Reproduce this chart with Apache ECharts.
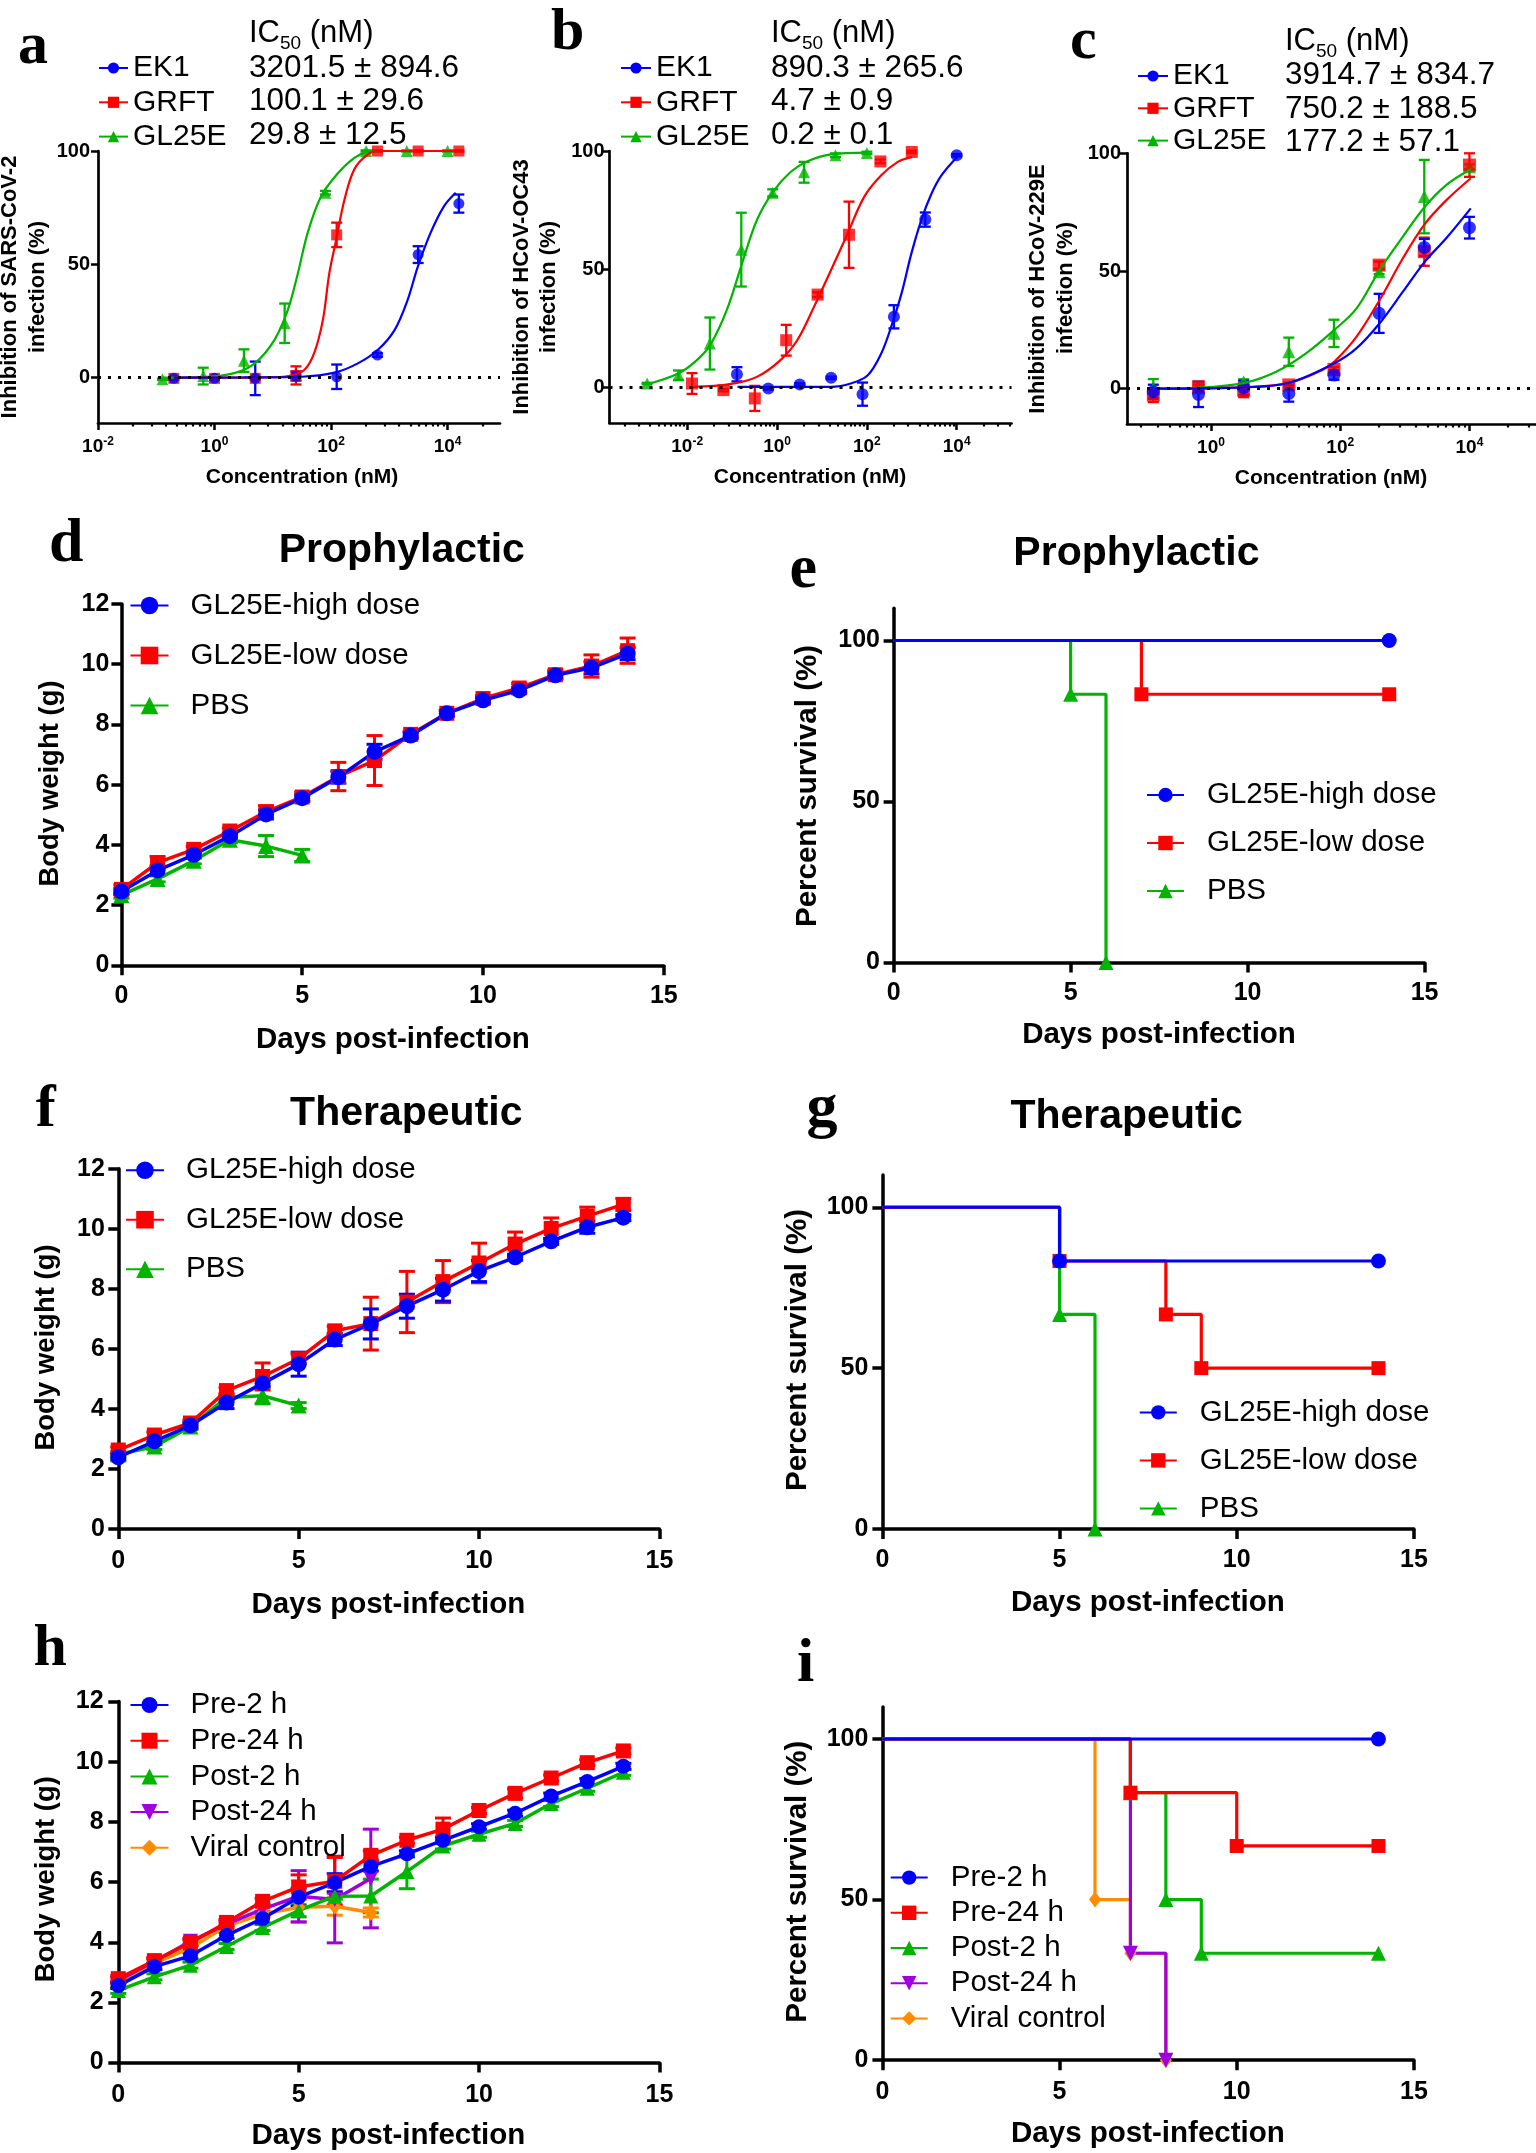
<!DOCTYPE html>
<html><head><meta charset="utf-8">
<script src="https://cdn.jsdelivr.net/npm/echarts@6/dist/echarts.min.js"></script>
<style>html,body{margin:0;padding:0;background:#fff}#c{width:1536px;height:2153px}</style>
</head><body><div id="c"></div>
<script>
// ---------------- DATA ----------------
// Panel a (SARS-CoV-2), concentrations in nM, inhibition in %
const A_CONC_EK1 = [0.2, 1, 5, 25, 125, 625, 3125, 15625];
const A_EK1 = [-0.3, -0.3, -0.3, 0.7, 0.4, 10, 54.3, 76.8];
const A_EK1_ERR = [0.5, 0.5, 7.4, 2, 5.4, 0.8, 3.7, 4];
const A_CONC_GRFT = [0.2, 1, 5, 25, 125, 625, 3125, 15625];
const A_GRFT = [-0.3, -0.3, -0.3, 1.0, 63, 100, 100, 100];
const A_GRFT_ERR = [0.5, 0.5, 0.5, 4, 5.4, 0.3, 0.3, 0.3];
const A_CONC_GL = [0.128, 0.64, 3.2, 16, 80, 400, 2000, 10000];
const A_GL = [-0.7, 0.7, 7.5, 24, 81.6, 100, 100, 100];
const A_GL_ERR = [0.3, 3.7, 5, 8.7, 0.8, 0.3, 0.3, 0.3];
// fitted curves (x = log10 nM)
const A_FIT_EK1_LOGX = [-0.7, 0.5, 1.49, 2.06, 2.46, 2.8, 3.09, 3.31, 3.49, 3.71, 3.94, 4.14];
const A_FIT_EK1_Y = [0, 0.1, 0.4, 2.2, 6.3, 12.2, 21, 34, 49, 64, 75.7, 81.6];
const A_FIT_GRFT_LOGX = [-0.7, 0.3, 1.0, 1.26, 1.54, 1.71, 1.86, 1.97, 2.09, 2.23, 2.4, 2.63, 2.8, 3.5, 4.19];
const A_FIT_GRFT_Y = [0, 0, 0.2, 0.7, 3.4, 10.8, 25.5, 46, 61, 78.5, 92, 98.5, 100, 100, 100];
const A_FIT_GL_LOGX = [-0.89, -0.23, 0.34, 0.69, 1.03, 1.26, 1.43, 1.6, 1.83, 2.11, 2.4, 2.63, 2.86, 3.5, 4.0];
const A_FIT_GL_Y = [0, 0.2, 2, 6.3, 16.7, 30, 46, 64, 80, 90, 97, 99.6, 100, 100, 100];

// Panel b (HCoV-OC43)
const B_CONC_EK1 = [0.128, 0.64, 3.2, 16, 80, 400, 2000, 10000];
const B_EK1 = [5.6, -0.4, 1.3, 4.1, -2.8, 29.9, 71, 98.2];
const B_EK1_ERR = [3, 0.5, 0.5, 0.5, 4.9, 4.9, 3, 0.5];
const B_CONC_GRFT = [0.0128, 0.064, 0.32, 1.6, 8, 40, 200, 1000];
const B_GRFT = [1.7, -1.1, -4.6, 20, 39.3, 64.6, 95.6, 99.6];
const B_GRFT_ERR = [4.4, 0.5, 5.3, 6.5, 1, 14, 0.8, 0.5];
const B_CONC_GL = [0.00128, 0.0064, 0.032, 0.16, 0.8, 4, 20, 100];
const B_GL = [1.7, 5.2, 18.6, 58.3, 82.3, 91, 98.2, 99.2];
const B_GL_ERR = [0.3, 2, 11, 15.6, 1.5, 4.4, 0.8, 0.5];
const B_FIT_EK1_LOGX = [-0.88, 0.2, 1.2, 1.64, 2.02, 2.32, 2.54, 2.77, 2.99, 3.21, 3.44, 3.66, 4.02];
const B_FIT_EK1_Y = [0.3, 0.3, 0.3, 1.7, 5.2, 14.4, 25.6, 39.7, 56.6, 70.7, 82, 89.7, 97.7];
const B_FIT_GRFT_LOGX = [-1.87, -1.05, -0.45, 0.07, 0.45, 0.82, 1.2, 1.57, 1.94, 2.32, 2.69, 3.01];
const B_FIT_GRFT_Y = [0.3, 1.4, 4.5, 11.5, 20, 34, 49.6, 65, 80.6, 89.7, 95.4, 97.5];
const B_FIT_GL_LOGX = [-2.88, -2.2, -1.79, -1.49, -1.12, -0.78, -0.45, -0.09, 0.3, 0.67, 1.2, 2.0];
const B_FIT_GL_Y = [1.4, 5.9, 11.5, 17.9, 32.7, 52.4, 70.7, 82.7, 91.1, 95.6, 98.6, 99.3];

// Panel c (HCoV-229E)
const C_CONC = [0.128, 0.64, 3.2, 16, 80, 400, 2000, 10000];
const C_EK1 = [-1.3, -2.4, 0.4, -2, 5.8, 32, 60, 68.4];
const C_EK1_ERR = [3, 5.4, 3, 3.5, 2, 8.3, 3.6, 4.6];
const C_GRFT = [-2.7, 0.8, -0.6, 1.6, 8.2, 52.5, 58.2, 95];
const C_GRFT_ERR = [3, 1, 3, 1, 1, 1.5, 6, 5];
const C_GL = [0.1, 0.4, 3, 15.7, 23.5, 49.7, 81.6, 94.3];
const C_GL_ERR = [4, 1, 1, 6, 5.8, 1, 15.6, 1];
const C_FIT_EK1_LOGX = [-0.89, 0.52, 1.21, 1.91, 2.25, 2.61, 2.97, 3.31, 3.64, 4.02];
const C_FIT_EK1_Y = [0, 0.6, 2.5, 10.8, 17.1, 27.8, 41.2, 54, 63.9, 76.6];
const C_FIT_GRFT_LOGX = [-0.89, 0.52, 1.21, 1.73, 1.91, 2.25, 2.61, 2.97, 3.31, 3.64, 4.02];
const C_FIT_GRFT_Y = [0, 0.6, 2.5, 8, 11.5, 22, 37.7, 55.4, 70, 80, 89.4];
const C_FIT_GL_LOGX = [-0.89, -0.18, 0.52, 1.01, 1.47, 1.91, 2.25, 2.61, 2.97, 3.31, 3.64, 4.02];
const C_FIT_GL_Y = [0, 0.4, 2.5, 7.2, 15, 25, 34, 50.4, 64.6, 77.3, 86.5, 93.2];

const DRUGS = ['EK1', 'GRFT', 'GL25E'];
const IC50_A = ['3201.5 ± 894.6', '100.1 ± 29.6', '29.8 ± 12.5'];
const IC50_B = ['890.3 ± 265.6', '4.7 ± 0.9', '0.2 ± 0.1'];
const IC50_C = ['3914.7 ± 834.7', '750.2 ± 188.5', '177.2 ± 57.1'];
const LOG_MAJOR_TICKS = [-2, 0, 2, 4];
const LOG_MINOR_OFFSETS = [0.6, 0.92, 1.17, 1.36, 1.51, 1.63, 1.74, 1.84, 1.93];
const PCT_TICKS = [0, 50, 100];

// Body weight (g), days 0..14
const DAYS = [0, 1, 2, 3, 4, 5, 6, 7, 8, 9, 10, 11, 12, 13, 14];
const D_HIGH = [2.45, 3.15, 3.67, 4.29, 5.01, 5.55, 6.25, 7.09, 7.63, 8.37, 8.80, 9.13, 9.63, 9.88, 10.35];
const D_HIGH_ERR = [0.1, 0.15, 0.1, 0.1, 0.15, 0.1, 0.2, 0.25, 0.1, 0.1, 0.1, 0.1, 0.1, 0.2, 0.2];
const D_LOW = [2.52, 3.41, 3.85, 4.46, 5.10, 5.59, 6.27, 6.80, 7.67, 8.37, 8.86, 9.21, 9.65, 9.94, 10.45];
const D_LOW_ERR = [0.15, 0.2, 0.1, 0.1, 0.2, 0.15, 0.47, 0.83, 0.1, 0.1, 0.1, 0.15, 0.15, 0.37, 0.42];
const D_PBS = [2.33, 2.87, 3.47, 4.17, 3.96, 3.65];
const D_PBS_ERR = [0.1, 0.1, 0.1, 0.1, 0.35, 0.2];

const F_HIGH = [2.39, 2.92, 3.45, 4.21, 4.85, 5.49, 6.31, 6.83, 7.42, 7.97, 8.59, 9.05, 9.58, 10.05, 10.37];
const F_HIGH_ERR = [0.1, 0.1, 0.1, 0.2, 0.1, 0.4, 0.2, 0.5, 0.4, 0.38, 0.35, 0.1, 0.1, 0.2, 0.1];
const F_LOW = [2.63, 3.13, 3.53, 4.61, 5.08, 5.67, 6.60, 6.84, 7.56, 8.24, 8.86, 9.49, 10.01, 10.42, 10.81];
const F_LOW_ERR = [0.1, 0.1, 0.1, 0.1, 0.45, 0.15, 0.15, 0.88, 1.02, 0.7, 0.66, 0.4, 0.35, 0.3, 0.2];
const F_PBS = [2.48, 2.75, 3.41, 4.38, 4.44, 4.11];
const F_PBS_ERR = [0.1, 0.1, 0.1, 0.1, 0.27, 0.1];

const H_PRE2 = [2.56, 3.19, 3.55, 4.23, 4.79, 5.50, 5.98, 6.52, 6.94, 7.39, 7.84, 8.29, 8.86, 9.34, 9.85];
const H_PRE2_ERR = [0.1, 0.1, 0.1, 0.1, 0.15, 0.3, 0.3, 0.15, 0.1, 0.1, 0.1, 0.1, 0.1, 0.1, 0.1];
const H_PRE24 = [2.79, 3.39, 3.98, 4.66, 5.36, 5.84, 6.03, 6.89, 7.39, 7.76, 8.38, 8.95, 9.46, 9.97, 10.36];
const H_PRE24_ERR = [0.1, 0.1, 0.1, 0.1, 0.1, 0.4, 0.79, 0.15, 0.1, 0.37, 0.1, 0.15, 0.1, 0.1, 0.1];
const H_POST2 = [2.40, 2.85, 3.24, 3.86, 4.49, 5.05, 5.53, 5.54, 6.35, 7.20, 7.59, 7.95, 8.61, 9.12, 9.65];
const H_POST2_ERR = [0.1, 0.1, 0.1, 0.1, 0.1, 0.2, 0.1, 0.56, 0.57, 0.1, 0.1, 0.1, 0.1, 0.1, 0.1];
const H_POST24 = [2.73, 3.36, 4.03, 4.60, 5.10, 5.53, 5.42, 6.12];
const H_POST24_ERR = [0.1, 0.1, 0.1, 0.1, 0.1, 0.85, 1.44, 1.64];
const H_VIRAL = [2.62, 3.30, 3.81, 4.54, 4.94, 5.16, 5.20, 4.99];
const H_VIRAL_ERR = [0.1, 0.1, 0.1, 0.1, 0.1, 0.5, 0.3, 0.15];

// Survival (%), event days
const E_HIGH_DAY = [0, 14], E_HIGH = [100, 100];
const E_LOW_DAY = [0, 7, 14], E_LOW = [100, 83.3, 83.3];
const E_PBS_DAY = [0, 5, 6], E_PBS = [100, 83.3, 0];
const G_HIGH_DAY = [0, 5, 14], G_HIGH = [100, 83.3, 83.3];
const G_LOW_DAY = [0, 5, 8, 9, 14], G_LOW = [100, 83.3, 66.7, 50, 50];
const G_PBS_DAY = [0, 5, 6], G_PBS = [100, 66.7, 0];
const I_PRE2_DAY = [0, 14], I_PRE2 = [100, 100];
const I_PRE24_DAY = [0, 7, 10, 14], I_PRE24 = [100, 83.3, 66.7, 66.7];
const I_POST2_DAY = [0, 7, 8, 9, 14], I_POST2 = [100, 83.3, 50, 33.3, 33.3];
const I_POST24_DAY = [0, 7, 8], I_POST24 = [100, 33.3, 0];
const I_VIRAL_DAY = [0, 6, 7, 8], I_VIRAL = [100, 50, 33.3, 0];

const DOSE_NAMES = ['GL25E-high dose', 'GL25E-low dose', 'PBS'];
const TIME_NAMES = ['Pre-2 h', 'Pre-24 h', 'Post-2 h', 'Post-24 h', 'Viral control'];

// ---------------- STYLE ----------------
const BLUE = '#0000FF', RED = '#FF0000', GREEN = '#00B400', PURPLE = '#A000E0', ORANGE = '#FF8C00';
const SANS = "'Liberation Sans', Arial, Helvetica, sans-serif";
const SERIF = "'Liberation Serif', 'Times New Roman', serif";
const TICK_FS = 25;

const grids = [], xAxes = [], yAxes = [], series = [], legends = [], graphics = [];
function addGrid(r) { grids.push(Object.assign({ outerBoundsMode: 'none', containLabel: false }, r)); return grids.length - 1; }

function minorTicks(min, max) {
  const out = [];
  for (let n = Math.floor(min / 2) * 2 - 2; n <= max; n += 2)
    LOG_MINOR_OFFSETS.forEach(o => { const v = n + o; if (v > min + 0.005 && v < max - 0.005) out.push(+v.toFixed(3)); });
  return out;
}

function doseGrid(rect, xmin, xmax, ymin, ylabMargin) {
  const gi = addGrid(rect);
  const majors = LOG_MAJOR_TICKS.filter(v => v >= xmin && v <= xmax);
  const xi = xAxes.length;
  const rb = { fontSize: 19, fontWeight: 'bold', fontFamily: SANS, color: '#000', lineHeight: 22 };
  const rs = { fontSize: 12, fontWeight: 'bold', fontFamily: SANS, color: '#000', lineHeight: 22, verticalAlign: 'top' };
  xAxes.push({ gridIndex: gi, type: 'value', min: xmin, max: xmax, position: 'bottom',
    axisLine: { show: true, onZero: false, lineStyle: { color: '#000', width: 2.7 } },
    axisTick: { show: true, customValues: majors, length: 7, lineStyle: { color: '#000', width: 2.5 } },
    axisLabel: { show: true, customValues: majors, margin: 13, formatter: v => '{b|10}{s|' + v + '}', rich: { b: rb, s: rs } },
    splitLine: { show: false } });
  xAxes.push({ gridIndex: gi, type: 'value', min: xmin, max: xmax, position: 'bottom', offset: 0,
    axisLine: { show: false, onZero: false },
    axisTick: { show: true, customValues: minorTicks(xmin, xmax), length: 3.5, lineStyle: { color: '#000', width: 2.2 } },
    axisLabel: { show: false }, splitLine: { show: false } });
  const yi = yAxes.length;
  yAxes.push({ gridIndex: gi, type: 'value', min: ymin, max: 100,
    axisLine: { show: true, onZero: false, lineStyle: { color: '#000', width: 2.7 } },
    axisTick: { show: true, customValues: PCT_TICKS, length: 7, lineStyle: { color: '#000', width: 2.5 } },
    axisLabel: { show: true, customValues: PCT_TICKS, margin: ylabMargin, fontSize: 20, fontWeight: 'bold', fontFamily: SANS, color: '#000' },
    splitLine: { show: false } });
  return { xi, yi };
}

function linGrid(rect, ymax, survival, xm, ym) {
  const gi = addGrid(rect);
  const xi = xAxes.length;
  xAxes.push({ gridIndex: gi, type: 'value', min: 0, max: 15, interval: 5, position: 'bottom',
    axisLine: { show: true, onZero: false, lineStyle: { color: '#000', width: 3.5 } },
    axisTick: { show: true, length: 10, lineStyle: { color: '#000', width: 3.5 } },
    axisLabel: { show: true, margin: xm, fontSize: TICK_FS, fontWeight: 'bold', fontFamily: SANS, color: '#000', lineHeight: TICK_FS },
    splitLine: { show: false } });
  const yi = yAxes.length;
  const y = { gridIndex: gi, type: 'value', min: 0, max: ymax,
    axisLine: { show: true, onZero: false, lineStyle: { color: '#000', width: 3.5 } },
    axisTick: { show: true, length: 10, lineStyle: { color: '#000', width: 3.5 } },
    axisLabel: { show: true, margin: ym, fontSize: TICK_FS, fontWeight: 'bold', fontFamily: SANS, color: '#000' },
    splitLine: { show: false } };
  if (survival) { y.axisTick.customValues = PCT_TICKS; y.axisLabel.customValues = PCT_TICKS; }
  else { y.interval = 2; }
  yAxes.push(y);
  return { xi, yi };
}

function errBar(ax, xs, ys, es, color, lw, cap) {
  return { type: 'custom', xAxisIndex: ax.xi, yAxisIndex: ax.yi, silent: true,
    data: xs.map((x, i) => [x, ys[i] - es[i], ys[i] + es[i]]),
    encode: { x: 0, y: [1, 2] },
    renderItem: (p, api) => {
      const x = api.value(0);
      const a = api.coord([x, api.value(2)]), b = api.coord([x, api.value(1)]);
      const st = { stroke: color, lineWidth: lw };
      return { type: 'group', children: [
        { type: 'line', shape: { x1: a[0], y1: a[1], x2: b[0], y2: b[1] }, style: st },
        { type: 'line', shape: { x1: a[0] - cap / 2, y1: a[1], x2: a[0] + cap / 2, y2: a[1] }, style: st },
        { type: 'line', shape: { x1: b[0] - cap / 2, y1: b[1], x2: b[0] + cap / 2, y2: b[1] }, style: st }
      ] };
    } };
}

function doseSeries(ax, name, color, symbol, size, conc, vals, errs, fx, fy, zeroLine) {
  const lx = conc.map(c => Math.log10(c));
  const line = { type: 'line', name, xAxisIndex: ax.xi, yAxisIndex: ax.yi, silent: true,
    data: fx.map((x, i) => [x, fy[i]]), smooth: 0.35, showSymbol: false, symbol, symbolSize: size,
    lineStyle: { color, width: 2.2 }, itemStyle: { color } };
  if (zeroLine) line.markLine = { silent: true, symbol: ['none', 'none'], label: { show: false },
    lineStyle: { color: '#000', type: [3, 7], width: 3 }, data: [{ yAxis: 0 }] };
  series.push(line);
  series.push(errBar(ax, lx, vals, errs, color, 2.3, 11));
  series.push({ type: 'scatter', name: name + ' points', xAxisIndex: ax.xi, yAxisIndex: ax.yi, silent: true,
    data: lx.map((x, i) => [x, vals[i]]), symbol, symbolSize: size, itemStyle: { color } });
}

function weightSeries(ax, name, color, symbol, size, rot, vals, errs) {
  const days = DAYS.slice(0, vals.length);
  series.push(errBar(ax, days, vals, errs, color, 3, 16));
  series.push({ type: 'line', name, xAxisIndex: ax.xi, yAxisIndex: ax.yi, silent: true,
    data: days.map((d, i) => [d, vals[i]]), symbol, symbolSize: size, symbolRotate: rot, showSymbol: true,
    lineStyle: { color, width: 3.5 }, itemStyle: { color } });
}

function survSeries(ax, name, color, symbol, size, rot, days, vals) {
  series.push({ type: 'line', name, xAxisIndex: ax.xi, yAxisIndex: ax.yi, silent: true, step: 'end',
    data: days.map((d, i) => i === 0 ? { value: [d, vals[i]], symbol: 'none' } : [d, vals[i]]),
    symbol, symbolSize: size, symbolRotate: rot, showSymbol: true,
    lineStyle: { color, width: 3.2 }, itemStyle: { color } });
}

function legend(names, left, top, iw, ih, gap, fs, pad) {
  legends.push({ orient: 'vertical', left, top, padding: 0, data: names, itemWidth: iw, itemHeight: ih, itemGap: gap,
    selectedMode: false, textStyle: { fontSize: fs, fontFamily: SANS, color: '#000', padding: [0, 0, 0, pad] } });
}

function T(text, x, y, o) {
  o = o || {};
  graphics.push({ type: 'text', x, y, rotation: o.rot || 0, scaleX: o.sx || 1, silent: true, z: 100,
    style: { text, fill: '#000', font: o.font, rich: o.rich,
      align: o.align || 'center', verticalAlign: 'middle', textAlign: o.align || 'center', textVerticalAlign: 'middle' } });
}
const bold = (s) => 'bold ' + s + 'px ' + SANS;
const reg = (s) => s + 'px ' + SANS;
const letter = (s) => 'bold ' + s + 'px ' + SERIF;
const R90 = Math.PI / 2;

// ---------------- PANELS a-c ----------------
const axA = doseGrid({ left: 98, top: 151, width: 402, height: 272 }, -2, 4.9, -20, 8);
doseSeries(axA, 'GL25E', GREEN, 'triangle', 12, A_CONC_GL, A_GL, A_GL_ERR, A_FIT_GL_LOGX, A_FIT_GL_Y, true);
doseSeries(axA, 'GRFT', RED, 'rect', 11, A_CONC_GRFT, A_GRFT, A_GRFT_ERR, A_FIT_GRFT_LOGX, A_FIT_GRFT_Y, false);
doseSeries(axA, 'EK1', BLUE, 'circle', 11, A_CONC_EK1, A_EK1, A_EK1_ERR, A_FIT_EK1_LOGX, A_FIT_EK1_Y, false);

const axB = doseGrid({ left: 609.5, top: 151, width: 402, height: 272 }, -3.73, 5.22, -15, 5);
doseSeries(axB, 'GL25E', GREEN, 'triangle', 12, B_CONC_GL, B_GL, B_GL_ERR, B_FIT_GL_LOGX, B_FIT_GL_Y, true);
doseSeries(axB, 'GRFT', RED, 'rect', 12, B_CONC_GRFT, B_GRFT, B_GRFT_ERR, B_FIT_GRFT_LOGX, B_FIT_GRFT_Y, false);
doseSeries(axB, 'EK1', BLUE, 'circle', 12, B_CONC_EK1, B_EK1, B_EK1_ERR, B_FIT_EK1_LOGX, B_FIT_EK1_Y, false);

const axC = doseGrid({ left: 1127, top: 153.3, width: 409, height: 270.7 }, -1.3, 5.03, -15, 6);
doseSeries(axC, 'GL25E', GREEN, 'triangle', 13, C_CONC, C_GL, C_GL_ERR, C_FIT_GL_LOGX, C_FIT_GL_Y, true);
doseSeries(axC, 'GRFT', RED, 'rect', 13, C_CONC, C_GRFT, C_GRFT_ERR, C_FIT_GRFT_LOGX, C_FIT_GRFT_Y, false);
doseSeries(axC, 'EK1', BLUE, 'circle', 13, C_CONC, C_EK1, C_EK1_ERR, C_FIT_EK1_LOGX, C_FIT_EK1_Y, false);

legend(DRUGS, 98, 53, 29, 14, 4.3, 30, 0);
legend(DRUGS, 620, 53, 30, 14, 4.3, 30, 0);
legend(DRUGS, 1137, 61, 30, 14, 2.3, 30, 0);

const icRich = { a: { fontSize: 31, fontFamily: SANS, fill: '#000', lineHeight: 40 }, b: { fontSize: 19, fontFamily: SANS, fill: '#000', lineHeight: 40, verticalAlign: 'bottom' } };
const IC_HEAD = '{a|IC}{b|50}{a| (nM)}';
[[249, [33, 68, 101.5, 135.5], IC50_A], [771, [33, 68, 101.5, 135.5], IC50_B], [1285, [41, 75, 109, 142], IC50_C]].forEach(([x, ys, vals]) => {
  T(IC_HEAD, x, ys[0], { rich: icRich, align: 'left' });
  vals.forEach((v, i) => T(v, x, ys[i + 1], { font: reg(31.5), align: 'left' }));
});
T('a', 18, 47, { font: letter(60), align: 'left' });
T('b', 551, 33, { font: letter(60), align: 'left' });
T('c', 1070, 42, { font: letter(60), align: 'left' });
T('Concentration (nM)', 302, 477, { font: bold(21) });
T('Concentration (nM)', 810, 477, { font: bold(21) });
T('Concentration (nM)', 1331, 478, { font: bold(21) });
T('Inhibition of SARS-CoV-2', 10, 287, { font: bold(22), rot: R90 });
T('infection (%)', 38, 287, { font: bold(22), rot: R90 });
T('Inhibition of HCoV-OC43', 522, 287, { font: bold(22), rot: R90 });
T('infection (%)', 549, 287, { font: bold(22), rot: R90 });
T('Inhibition of HCoV-229E', 1038, 289, { font: bold(22), rot: R90 });
T('infection (%)', 1066, 288, { font: bold(22), rot: R90 });

// ---------------- PANELS d-i ----------------
const axD = linGrid({ left: 121.4, top: 604, width: 542.4, height: 361.3 }, 12, false, 18, 12);
weightSeries(axD, 'PBS', GREEN, 'triangle', 16, 0, D_PBS, D_PBS_ERR);
weightSeries(axD, 'GL25E-low dose', RED, 'rect', 15, 0, D_LOW, D_LOW_ERR);
weightSeries(axD, 'GL25E-high dose', BLUE, 'circle', 16, 0, D_HIGH, D_HIGH_ERR);

const axE = linGrid({ left: 893.6, top: 608.3, width: 531, height: 354.2 }, 110, true, 18.3, 13.6);
survSeries(axE, 'PBS', GREEN, 'triangle', 15, 0, E_PBS_DAY, E_PBS);
survSeries(axE, 'GL25E-low dose', RED, 'rect', 14, 0, E_LOW_DAY, E_LOW);
survSeries(axE, 'GL25E-high dose', BLUE, 'circle', 15, 0, E_HIGH_DAY, E_HIGH);

const axF = linGrid({ left: 118.3, top: 1168.7, width: 541.1, height: 360.3 }, 12, false, 19.7, 13.4);
weightSeries(axF, 'PBS', GREEN, 'triangle', 16, 0, F_PBS, F_PBS_ERR);
weightSeries(axF, 'GL25E-low dose', RED, 'rect', 15, 0, F_LOW, F_LOW_ERR);
weightSeries(axF, 'GL25E-high dose', BLUE, 'circle', 16, 0, F_HIGH, F_HIGH_ERR);

const axG = linGrid({ left: 882.4, top: 1175.1, width: 531.5, height: 353.9 }, 110, true, 19, 14);
survSeries(axG, 'PBS', GREEN, 'triangle', 15, 0, G_PBS_DAY, G_PBS);
survSeries(axG, 'GL25E-low dose', RED, 'rect', 14, 0, G_LOW_DAY, G_LOW);
survSeries(axG, 'GL25E-high dose', BLUE, 'circle', 15, 0, G_HIGH_DAY, G_HIGH);

const axH = linGrid({ left: 118.3, top: 1701.6, width: 541.1, height: 361 }, 12, false, 20, 14.7);
weightSeries(axH, 'Viral control', ORANGE, 'diamond', [13, 17], 0, H_VIRAL, H_VIRAL_ERR);
weightSeries(axH, 'Post-24 h', PURPLE, 'triangle', 15, 180, H_POST24, H_POST24_ERR);
weightSeries(axH, 'Post-2 h', GREEN, 'triangle', 15, 0, H_POST2, H_POST2_ERR);
weightSeries(axH, 'Pre-24 h', RED, 'rect', 15, 0, H_PRE24, H_PRE24_ERR);
weightSeries(axH, 'Pre-2 h', BLUE, 'circle', 15, 0, H_PRE2, H_PRE2_ERR);

const axI = linGrid({ left: 882.4, top: 1706.9, width: 531.5, height: 353.3 }, 110, true, 19, 14);
survSeries(axI, 'Viral control', ORANGE, 'diamond', [12, 16], 0, I_VIRAL_DAY, I_VIRAL);
survSeries(axI, 'Post-24 h', PURPLE, 'triangle', 15, 180, I_POST24_DAY, I_POST24);
survSeries(axI, 'Post-2 h', GREEN, 'triangle', 15, 0, I_POST2_DAY, I_POST2);
survSeries(axI, 'Pre-24 h', RED, 'rect', 14, 0, I_PRE24_DAY, I_PRE24);
survSeries(axI, 'Pre-2 h', BLUE, 'circle', 15, 0, I_PRE2_DAY, I_PRE2);

legend(DOSE_NAMES, 129.5, 590.5, 38, 22, 20, 29.5, 17);
legend(DOSE_NAMES, 1146, 780, 37, 18, 18, 29.5, 18);
legend(DOSE_NAMES, 125, 1155.2, 38, 22, 19.5, 29.5, 17);
legend(DOSE_NAMES, 1138.8, 1397.4, 37, 18, 18, 29.5, 18);
legend(TIME_NAMES, 129.5, 1690, 38, 20, 5.7, 29.5, 17);
legend(TIME_NAMES, 889.7, 1862.6, 37, 18, 5.2, 29.5, 18);

T('d', 49, 545, { font: letter(62), align: 'left' });
T('e', 789.5, 571, { font: letter(62), align: 'left' });
T('f', 35.7, 1110.6, { font: letter(60), align: 'left' });
T('g', 806.6, 1110, { font: letter(62), align: 'left' });
T('h', 33.5, 1649.4, { font: letter(60), align: 'left' });
T('i', 797, 1665, { font: letter(62), align: 'left' });

T('Prophylactic', 401.8, 550.3, { font: bold(41) });
T('Prophylactic', 1136.4, 553.8, { font: bold(41) });
T('Therapeutic', 406.3, 1113.3, { font: bold(41) });
T('Therapeutic', 1126.6, 1116.8, { font: bold(41) });

T('Days post-infection', 392.9, 1039.6, { font: bold(29.5) });
T('Days post-infection', 1159, 1034.4, { font: bold(29.5) });
T('Days post-infection', 388.4, 1604.4, { font: bold(29.5) });
T('Days post-infection', 1147.9, 1602.6, { font: bold(29.5) });
T('Days post-infection', 388.4, 2136, { font: bold(29.5) });
T('Days post-infection', 1147.9, 2134, { font: bold(29.5) });

T('Body weight (g)', 50.5, 783.5, { font: bold(27.5), rot: R90 });
T('Body weight (g)', 46.4, 1347.5, { font: bold(27.5), rot: R90 });
T('Body weight (g)', 46.4, 1879.2, { font: bold(27.5), rot: R90 });
T('Percent survival (%)', 808, 786, { font: bold(29.5), rot: R90 });
T('Percent survival (%)', 798, 1350, { font: bold(29.5), rot: R90 });
T('Percent survival (%)', 798, 1881.7, { font: bold(29.5), rot: R90 });

const chart = echarts.init(document.getElementById('c'), null, { renderer: 'canvas', width: 1536, height: 2153 });
chart.setOption({ animation: false, backgroundColor: '#fff', grid: grids, xAxis: xAxes, yAxis: yAxes,
  series, legend: legends, graphic: { elements: graphics } });
</script></body></html>
